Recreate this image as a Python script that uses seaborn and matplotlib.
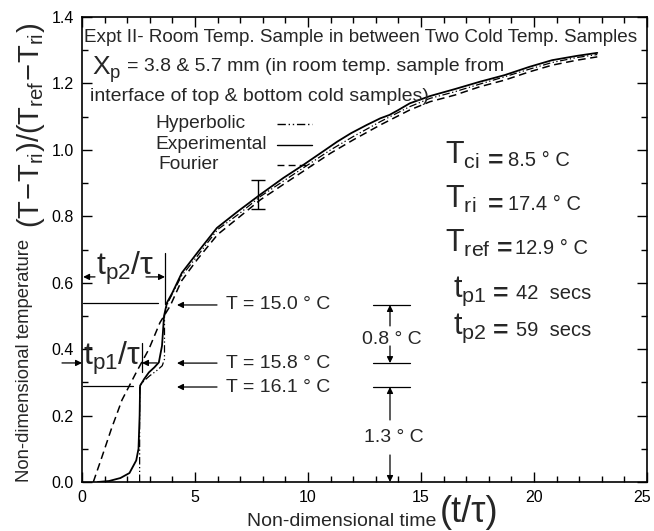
import matplotlib
matplotlib.use("Agg")
import matplotlib.pyplot as plt
from matplotlib.transforms import ScaledTranslation
import seaborn as sns
import pandas as pd

# --- data -------------------------------------------------------------
t_exp = [0.7, 1.2, 1.7, 2.1, 2.4, 2.5, 2.55, 2.57, 2.75, 2.96, 3.2, 3.4, 3.54,
         3.63, 3.76, 4.0, 4.42, 5.1, 5.97, 6.9, 7.88, 8.9, 9.8, 10.66, 11.3,
         11.9, 12.6, 13.2, 13.6, 14.0, 14.5, 15.4, 16.5, 17.6, 18.7, 19.8,
         20.8, 21.9, 22.8]
y_exp = [0.0, 0.003, 0.012, 0.027, 0.065, 0.1, 0.2, 0.29, 0.31, 0.33, 0.345,
         0.36, 0.41, 0.50, 0.54, 0.57, 0.63, 0.69, 0.765, 0.815, 0.865, 0.915,
         0.955, 0.995, 1.025, 1.05, 1.075, 1.095, 1.105, 1.12, 1.14, 1.162,
         1.183, 1.205, 1.225, 1.25, 1.27, 1.283, 1.292]

t_four = [0.5, 0.88, 1.3, 1.77, 2.4, 2.96, 3.45, 3.9, 4.4, 5.1, 6.0, 7.0, 7.9,
          9.0, 10.0, 11.0, 12.0, 13.2, 14.5, 15.4, 16.5, 17.6, 18.7, 19.8,
          20.8, 21.9, 22.8]
y_four = [0.0, 0.075, 0.16, 0.247, 0.33, 0.40, 0.48, 0.53, 0.605, 0.67, 0.745,
          0.80, 0.85, 0.9, 0.945, 0.99, 1.03, 1.075, 1.12, 1.145, 1.165,
          1.19, 1.21, 1.235, 1.255, 1.27, 1.28]

t_hyp = [2.55, 2.55, 2.75, 3.0, 3.3, 3.55, 3.65, 3.65, 3.8, 4.4, 5.1, 6.0, 7.0,
         7.9, 9.0, 10.0, 11.0, 12.0, 13.2, 14.5, 15.4, 16.5, 17.6, 18.7, 19.8,
         20.8, 21.9, 22.8]
y_hyp = [0.0, 0.29, 0.305, 0.32, 0.335, 0.35, 0.37, 0.50, 0.54, 0.62, 0.68,
         0.76, 0.81, 0.86, 0.91, 0.955, 1.0, 1.04, 1.085, 1.13, 1.155,
         1.175, 1.198, 1.22, 1.243, 1.263, 1.278, 1.287]

# error bar on the experimental curve
err_t, err_y, err_dy = 7.8, 0.866, 0.044

# temperatures marked on the curve (non-dimensional level, label)
mark_levels = [0.533, 0.358, 0.286]
mark_labels = ["T = 15.0 ° C", "T = 15.8 ° C", "T = 16.1 ° C"]

# experiment parameters
param_syms = [r"$\mathregular{T_{ci}}$", r"$\mathregular{T_{ri}}$",
              r"$\mathregular{T_{ref}}$", r"$\mathregular{t_{p1}}$",
              r"$\mathregular{t_{p2}}$"]
param_vals = ["8.5 ° C", "17.4 ° C", "12.9 ° C", "42  secs", "59  secs"]

x_ticks = [0, 5, 10, 15, 20, 25]
y_ticks = [0.0, 0.2, 0.4, 0.6, 0.8, 1.0, 1.2, 1.4]

# --- style ------------------------------------------------------------
sns.set_theme(style="ticks")
plt.rcParams["font.family"] = ["Liberation Sans", "DejaVu Sans"]
plt.rcParams["mathtext.fontset"] = "custom"
plt.rcParams["mathtext.rm"] = "Liberation Sans"
plt.rcParams["mathtext.it"] = "Liberation Sans"
plt.rcParams["axes.linewidth"] = 1.2

fig = plt.figure(figsize=(6.54, 5.31), dpi=100)
ax = fig.add_axes([82 / 654, 49 / 531, 565 / 654, 465 / 531])

df_exp = pd.DataFrame({"t": t_exp, "y": y_exp})
df_four = pd.DataFrame({"t": t_four, "y": y_four})
df_hyp = pd.DataFrame({"t": t_hyp, "y": y_hyp})

lw = 1.1
sns.lineplot(data=df_four, x="t", y="y", sort=False, estimator=None, ax=ax,
             color="black", lw=lw, linestyle=(0, (5, 3)))
sns.lineplot(data=df_hyp, x="t", y="y", sort=False, estimator=None, ax=ax,
             color="black", lw=0.9, linestyle=(0, (6, 2, 1, 2, 1, 2)))
sns.lineplot(data=df_exp, x="t", y="y", sort=False, estimator=None, ax=ax,
             color="black", lw=lw + 0.2)

ax.errorbar([err_t], [err_y], yerr=[err_dy], fmt="none", ecolor="black",
            elinewidth=1.0, capsize=5, capthick=1.0)

# --- axes -------------------------------------------------------------
ax.set_xlim(0, 25)
ax.set_ylim(0, 1.4)
ax.set_xticks(x_ticks)
ax.set_yticks(y_ticks)
ax.set_xticklabels([str(v) for v in x_ticks])
ax.set_yticklabels([f"{v:.1f}" for v in y_ticks])
ax.set_xticks(range(0, 26), minor=True)
ax.set_yticks([i / 10 for i in range(15)], minor=True)
ax.tick_params(which="both", direction="in", top=True, right=True,
               labelsize=11.5, colors="black", width=1.0)
ax.tick_params(which="major", length=7, pad=6)
ax.tick_params(which="minor", length=4)
ax.set_xlabel("")
ax.set_ylabel("")
for s in ax.spines.values():
    s.set_visible(True)
    s.set_color("black")

# keep the last x tick label inside the canvas
last = ax.get_xticklabels()[-1]
last.set_transform(last.get_transform()
                   + ScaledTranslation(-5 / 100, 0, fig.dpi_scale_trans))

# axis titles with mixed sizes
fig.text(342 / 654, 1 - 521 / 531, "Non-dimensional time", fontsize=14,
         ha="center", va="center")
fig.text(469 / 654, 1 - 513 / 531, "(t/τ)", fontsize=26,
         ha="center", va="center")
fig.text(25 / 654, 1 - 360 / 531, "Non-dimensional temperature",
         fontsize=13.3, rotation=90, ha="center", va="center")
fig.text(31 / 654, 1 - 125 / 531,
         r"$\mathregular{(T\!-\!T_{ri})/(T_{ref}\!-\!T_{ri})}$",
         fontsize=21, rotation=90, ha="center", va="center")

# --- header text ------------------------------------------------------
def px(xp, yp):
    return ((xp - 82) / 22.6, (482 - yp) / 332.0)

ax.text(*px(84, 38), "Expt II- Room Temp. Sample in between Two Cold Temp. Samples",
        fontsize=13.6, ha="left", va="center", clip_on=False)
ax.text(*px(92, 70), r"$\mathregular{X_p}$", fontsize=19, ha="left", va="center")
ax.text(*px(127, 67), "= 3.8 & 5.7 mm (in room temp. sample from",
        fontsize=14, ha="left", va="center")
ax.text(*px(90, 97), "interface of top & bottom cold samples)",
        fontsize=14, ha="left", va="center")

# legend drawn as labels followed by line samples
leg_items = [("Hyperbolic", 124, (0, (6, 2, 1, 2, 1, 2))),
             ("Experimental", 145, "-"),
             ("Fourier", 165, (0, (5, 3)))]
for (name, yp, ls), xoff in zip(leg_items, [155, 155, 158]):
    ax.text(*px(xoff, yp), name, fontsize=13.8, ha="left", va="center")
    x0, yy = px(277, yp)
    x1, _ = px(312, yp)
    ax.plot([x0, x1], [yy, yy], color="black", lw=1.0, linestyle=ls)

# parameter block
sym_px = [445, 445, 445, 453, 453]
eq_px = [488, 488, 497, 493, 493]
val_px = [508, 508, 515, 516, 516]
base_py = [164, 208, 252, 297, 334]
for sym, val, sx, ex, vx, by in zip(param_syms, param_vals, sym_px, eq_px,
                                    val_px, base_py):
    yb = px(0, by)[1]
    ax.text(px(sx, 0)[0], yb, sym, fontsize=22, ha="left", va="baseline")
    ax.text(px(ex, 0)[0], yb - 0.010, "=", fontsize=19, ha="left",
            va="baseline", fontweight="bold")
    ax.text(px(vx, 0)[0], yb - 0.006, val, fontsize=14.5, ha="left",
            va="baseline")

# --- annotations on the plateaus --------------------------------------
arrow_kw = dict(arrowstyle="-|>", color="black", lw=0.9,
                mutation_scale=9, shrinkA=0, shrinkB=0)

# temperature markers with arrows to the curve
for lev, lab in zip(mark_levels, mark_labels):
    x_tip = px(177, 0)[0]
    x_tail = px(217, 0)[0]
    ax.annotate("", xy=(x_tip, lev), xytext=(x_tail, lev), arrowprops=arrow_kw)
    ax.text(px(226, 0)[0], lev, lab, fontsize=14, ha="left", va="center")

# plateau reference lines at the left
ax.plot([0.05, px(158, 0)[0]], [0.54, 0.54], color="black", lw=0.9)
ax.plot([0.05, px(133, 0)[0]], [0.289, 0.289], color="black", lw=0.9)

# t_p2 / tau marker
xv2 = px(165, 0)[0]
ax.plot([xv2, xv2], [0.536, 0.69], color="black", lw=0.9)
ax.text(*px(96, 268), r"$\mathregular{t_{p2}/\tau}$", fontsize=23,
        ha="left", va="center")
y_a2 = px(0, 277)[1]
ax.annotate("", xy=(0.05, y_a2), xytext=(px(95, 0)[0], y_a2), arrowprops=arrow_kw)
ax.annotate("", xy=(xv2, y_a2), xytext=(px(146, 0)[0], y_a2), arrowprops=arrow_kw)

# t_p1 / tau marker
xv1 = px(142, 0)[0]
ax.plot([xv1, xv1], [0.33, 0.42], color="black", lw=0.9)
ax.text(*px(83, 358), r"$\mathregular{t_{p1}/\tau}$", fontsize=23,
        ha="left", va="center", clip_on=False)
y_a1 = px(0, 363)[1]
ax.annotate("", xy=(0.0, y_a1), xytext=(px(62, 0)[0], y_a1),
            arrowprops=arrow_kw, annotation_clip=False)
ax.annotate("", xy=(xv1, y_a1), xytext=(px(157, 0)[0], y_a1), arrowprops=arrow_kw)

# temperature differences at the right
xl0, xl1 = px(373, 0)[0], px(410, 0)[0]
xa = px(390, 0)[0]
for lev in mark_levels:
    ax.plot([xl0, xl1], [lev, lev], color="black", lw=0.9)
ax.annotate("", xy=(xa, mark_levels[0]), xytext=(xa, px(0, 326)[1]), arrowprops=arrow_kw)
ax.annotate("", xy=(xa, mark_levels[1]), xytext=(xa, px(0, 346)[1]), arrowprops=arrow_kw)
ax.text(*px(362, 340), "0.8 ° C", fontsize=14, ha="left", va="center")
ax.annotate("", xy=(xa, mark_levels[2]), xytext=(xa, px(0, 420)[1]), arrowprops=arrow_kw)
ax.annotate("", xy=(xa, 0.0), xytext=(xa, px(0, 455)[1]), arrowprops=arrow_kw)
ax.text(*px(364, 438), "1.3 ° C", fontsize=14, ha="left", va="center")

fig.savefig("out.png", dpi=100)
